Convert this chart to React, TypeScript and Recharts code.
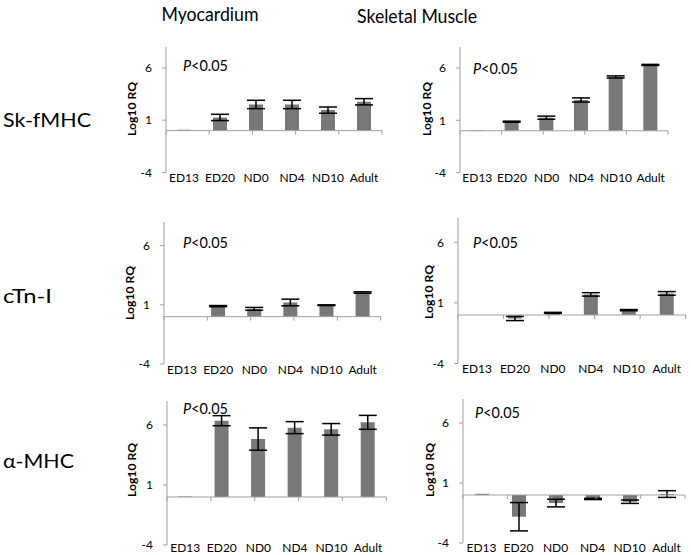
import React from 'react';
import { BarChart, Bar, XAxis, YAxis, ErrorBar, ReferenceLine } from 'recharts';

const categories = ['ED13', 'ED20', 'ND0', 'ND4', 'ND10', 'Adult'];
const yTicks = [-4, 1, 6];

const myoSkfValues = [0.08, 1.26, 2.5, 2.5, 1.96, 2.76];
const myoSkfErrors = [null, 0.3, 0.4, 0.4, 0.3, 0.3];
const skelSkfValues = [0.05, 0.87, 1.25, 2.94, 5.14, 6.29];
const skelSkfErrors = [null, 0.05, 0.15, 0.2, 0.1, 0.05];
const myoCtnValues = [0, 0.89, 0.66, 1.2, 0.97, 2.04];
const myoCtnErrors = [null, 0.05, 0.12, 0.28, 0.03, 0.06];
const skelCtnValues = [0, -0.29, 0.18, 1.7, 0.4, 1.78];
const skelCtnErrors = [null, 0.17, 0.04, 0.14, 0.05, 0.15];
const myoAmhcValues = [0.05, 6.36, 4.83, 5.78, 5.64, 6.22];
const myoAmhcErrors = [null, 0.42, 0.93, 0.5, 0.48, 0.58];
const skelAmhcValues = [0.1, -1.81, -0.67, -0.33, -0.56, 0.08];
const skelAmhcErrors = [null, 1.18, 0.32, 0.05, 0.14, 0.28];

const columnTitles = ['Myocardium', 'Skeletal Muscle'];
const rowLabels = ['Sk-fMHC', 'cTn-I', 'α-MHC'];
const pText = '<0.05';
const yLabel = 'Log10 RQ';

const FONT = 'Lato, "Open Sans", sans-serif';
const AXIS = '#a0a0a0';
const BAR = '#787878';

const build = (vals: number[], errs: (number | null)[]) =>
  categories.map((c, i) => ({ cat: c, v: vals[i], e: errs[i] }));

type PanelProps = {
  px: number; py: number; pw: number; ph: number;
  vals: number[]; errs: (number | null)[]; lm: number;
};

const boundaries = [0, 1, 2, 3, 4, 5, 6];

function Panel({ px, py, pw, ph, vals, errs, lm }: PanelProps) {
  const L = 60, T = 5, R = 5, B = 22;
  const data = build(vals, errs);
  const tickLen = (4 / ph) * 12;
  return (
    <div style={{ position: 'absolute', left: px - L, top: py - T }}>
      <BarChart width={pw + L + R} height={ph + T + B} data={data}
        margin={{ top: T, right: R, bottom: 0, left: 0 }}>
        <XAxis dataKey="cat" height={B} axisLine={false} tickLine={false} tickSize={0} tickMargin={lm}
          interval={0} tick={{ fontSize: 12, fill: '#000', fontFamily: FONT }} />
        <XAxis xAxisId="n" type="number" domain={[0, 6]} allowDataOverflow hide />
        <YAxis width={L} domain={[-4, 8]} ticks={yTicks} allowDataOverflow
          axisLine={{ stroke: AXIS }} tickLine={{ stroke: AXIS }} tickSize={4} tickMargin={10}
          tick={{ fontSize: 12, fill: '#000', fontFamily: FONT }} />
        <Bar dataKey="v" fill={BAR} barSize={14} isAnimationActive={false}>
          <ErrorBar dataKey="e" width={9} stroke="#000" strokeWidth={1.5} />
        </Bar>
        <ReferenceLine y={0} stroke={AXIS} strokeWidth={1} />
        {boundaries.map((b) => (
          <ReferenceLine key={b} xAxisId="n" stroke={AXIS} strokeWidth={1} ifOverflow="visible"
            segment={[{ x: b, y: 0 }, { x: b, y: -tickLen }]} />
        ))}
      </BarChart>
    </div>
  );
}

const panels = [
  { px: 166, py: 47.3, pw: 216, ph: 125.4, vals: myoSkfValues, errs: myoSkfErrors, lm: 1 },
  { px: 460, py: 47, pw: 208, ph: 125.7, vals: skelSkfValues, errs: skelSkfErrors, lm: 1 },
  { px: 164.3, py: 221.5, pw: 216.7, ph: 142, vals: myoCtnValues, errs: myoCtnErrors, lm: 1 },
  { px: 458.3, py: 218, pw: 227.7, ph: 145.5, vals: skelCtnValues, errs: skelCtnErrors, lm: 1 },
  { px: 166.7, py: 401, pw: 219.3, ph: 144, vals: myoAmhcValues, errs: myoAmhcErrors, lm: -2 },
  { px: 462.7, py: 398.5, pw: 222, ph: 144, vals: skelAmhcValues, errs: skelAmhcErrors, lm: 0 },
];

const pPos = [[183, 71], [473, 74], [183, 248], [473, 248], [183, 414], [475, 418]];
const yLabPos = [[131.7, 109], [426.7, 109], [129, 293], [428, 292], [131.7, 470], [429, 470]];

export default function App() {
  return (
    <div style={{ position: 'absolute', left: 0, top: 0, width: 691, height: 555, background: '#fff', fontFamily: FONT, overflow: 'hidden' }}>
      {panels.map((p, i) => <Panel key={i} {...p} />)}
      <svg width={691} height={555} style={{ position: 'absolute', left: 0, top: 0, pointerEvents: 'none' }}>
        <text x={161.5} y={20.5} fontSize={19.5} textLength={97} lengthAdjust="spacingAndGlyphs" fontFamily={FONT}>{columnTitles[0]}</text>
        <text x={357} y={22.5} fontSize={19.5} textLength={120} lengthAdjust="spacingAndGlyphs" fontFamily={FONT}>{columnTitles[1]}</text>
        <text x={3} y={126.7} fontSize={19} textLength={88} lengthAdjust="spacingAndGlyphs" fontFamily={FONT}>{rowLabels[0]}</text>
        <text x={3} y={303.3} fontSize={19} textLength={49} lengthAdjust="spacingAndGlyphs" fontFamily={FONT}>{rowLabels[1]}</text>
        <text x={3} y={468.3} fontSize={19} textLength={71} lengthAdjust="spacingAndGlyphs" fontFamily={FONT}>{rowLabels[2]}</text>
        {pPos.map(([x, y], i) => (
          <text key={'p' + i} x={x} y={y} fontSize={15} textLength={45} lengthAdjust="spacingAndGlyphs" fontFamily={FONT}>
            <tspan fontStyle="italic">P</tspan>{pText}
          </text>
        ))}
        {yLabPos.map(([x, y], i) => (
          <text key={'y' + i} x={x} y={y} fontSize={12} fontWeight="bold" fontFamily={FONT}
            textAnchor="middle" dominantBaseline="central" textLength={54} lengthAdjust="spacingAndGlyphs"
            transform={`rotate(-90 ${x} ${y})`}>
            {yLabel}
          </text>
        ))}
      </svg>
    </div>
  );
}
